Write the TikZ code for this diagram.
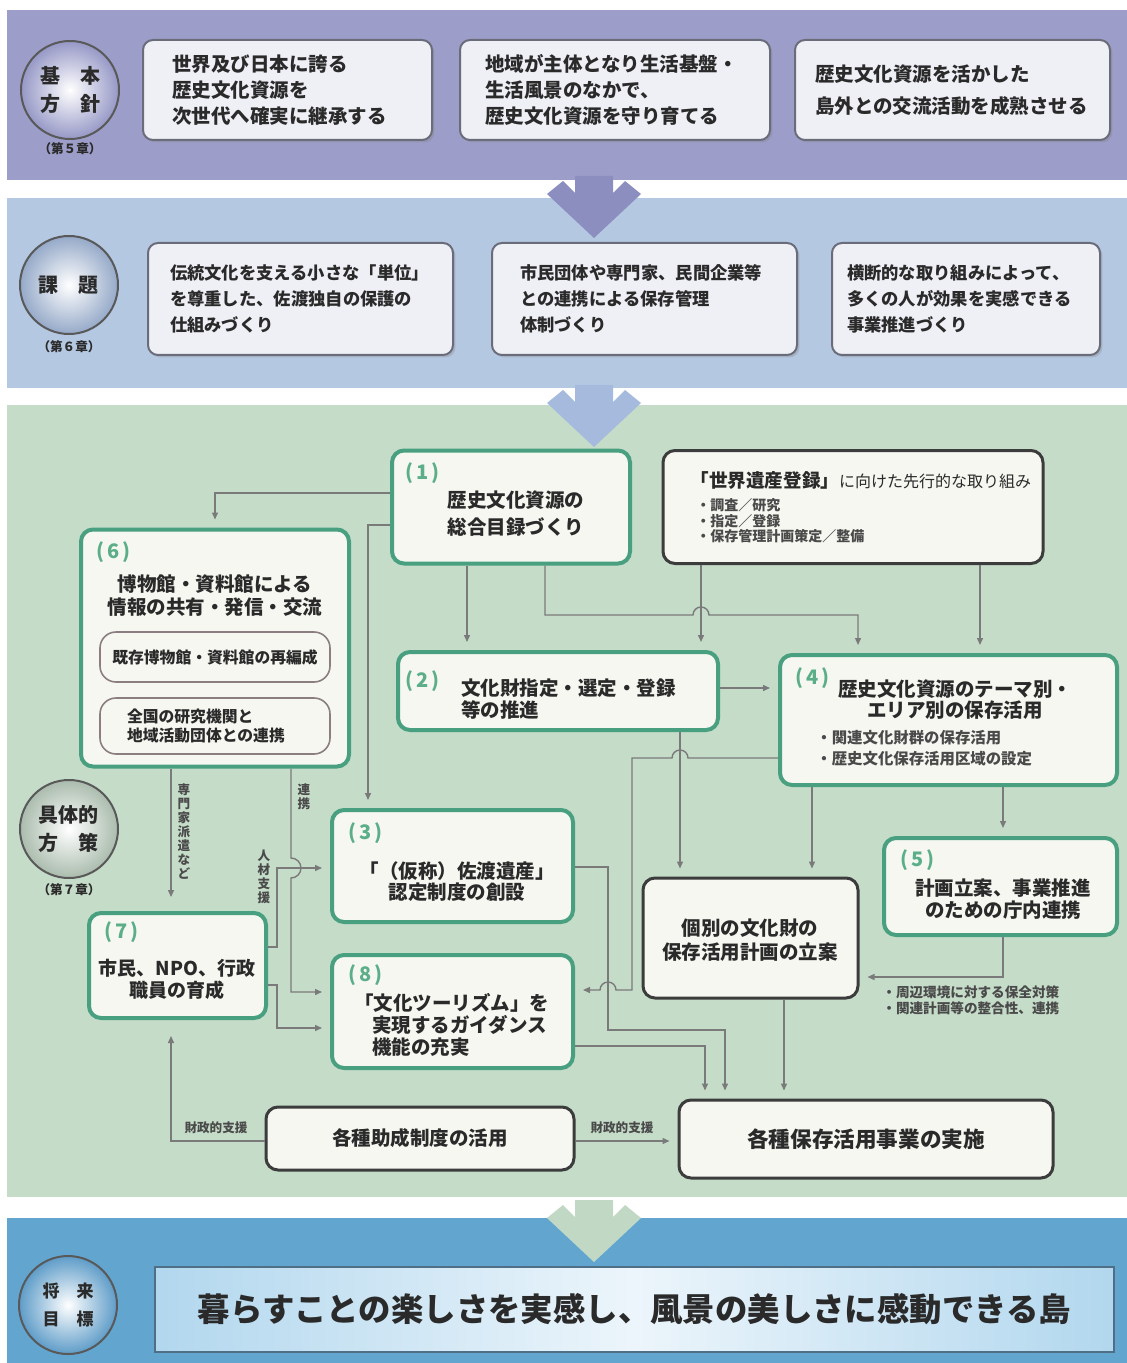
\documentclass[tikz,border=0pt]{standalone}
\usepackage{fontspec}
\setmainfont{Noto Sans CJK JP}
\usepackage{xcolor}
\usepackage{tikz}
\usetikzlibrary{arrows.meta,positioning,calc,shadows}
\definecolor{cBandA}{HTML}{9C9EC9}
\definecolor{cBandB}{HTML}{B4C8E2}
\definecolor{cBandC}{HTML}{C5DCC9}
\definecolor{cBandD}{HTML}{62A6D0}
\definecolor{cArrA}{HTML}{8C8EC0}
\definecolor{cArrB}{HTML}{A6BADE}
\definecolor{cArrC}{HTML}{C0D8C4}
\definecolor{cCirA}{HTML}{9698C6}
\definecolor{cCirB}{HTML}{95A9C8}
\definecolor{cCirC}{HTML}{AABCAD}
\definecolor{cCirD}{HTML}{5E9CC8}
\definecolor{cTop}{HTML}{EEF0F6}
\definecolor{cTopB}{HTML}{6B6C7A}
\definecolor{cGrn}{HTML}{48A080}
\definecolor{cNum}{HTML}{5BAE88}
\definecolor{cFill}{HTML}{F6F7F1}
\definecolor{cDark}{HTML}{3C3C3C}
\definecolor{cInB}{HTML}{8A7E80}
\definecolor{cLine}{HTML}{7A7A7A}
\definecolor{cTxt}{HTML}{2A2A2A}
\definecolor{cGoal}{HTML}{B2D7EE}
\definecolor{cGoalB}{HTML}{4F6F86}
\newcommand{\jfs}[2]{\fontsize{#1pt}{#2pt}\selectfont\bfseries}
\newcommand{\ntag}[1]{(\kern1.5pt#1\kern1.5pt)}
\tikzset{
  bcirc/.style={circle, draw=cDark!85, line width=1pt, inner color=white, outer color=#1,
                minimum size=49pt, inner sep=0pt, align=center, text=cTxt, font=\jfs{10}{14}},
  chap/.style={inner sep=0pt, text=cTxt, font=\jfs{6.3}{7}},
  tbox/.style={draw=cTopB, fill=cTop, line width=1pt, rounded corners=5pt, align=left,
               text=cTxt, minimum height=50pt, font=\jfs{9.75}{13},
               drop shadow={opacity=0.3, shadow xshift=1.2pt, shadow yshift=-1.2pt}},
  gbox/.style={draw=cGrn, fill=cFill, line width=2pt, rounded corners=6pt},
  kbox/.style={draw=cDark, fill=cFill, line width=1.5pt, rounded corners=6pt, align=center,
               text=cTxt, font=\jfs{9.75}{12}},
  ibox/.style={draw=cInB, fill=cFill, line width=0.8pt, rounded corners=8pt, text=cTxt,
               font=\jfs{7.9}{9.5}},
  fnum/.style={anchor=west, text=cNum, inner sep=0pt, font=\jfs{10}{10}},
  ftxt/.style={text=cTxt, inner sep=0pt, align=center, font=\jfs{9.75}{12}},
  fsml/.style={anchor=west, text=cTxt!85, inner sep=0pt, align=left, font=\jfs{6.8}{8}},
  vlbl/.style={text=cTxt!85, inner sep=0pt, align=center, font=\jfs{6.3}{7}},
  farr/.style={-{Triangle[length=3.5pt,width=3pt]}, line width=0.7pt, draw=cLine, shorten >=4pt},
}

\begin{document}
\begin{tikzpicture}[x=0.5pt, y=-0.5pt]
\useasboundingbox (0,0) rectangle (1127,1363);
\fill[white] (0,0) rectangle (1127,1363);
% ---- bands
\fill[cBandA] (7,10) rectangle (1127,180);
\fill[cBandB] (7,198) rectangle (1127,388);
\fill[cBandC] (7,405) rectangle (1127,1197);
\fill[cBandD] (7,1218) rectangle (1127,1363);
\foreach \ty/\col in {238/cArrA, 447/cArrB, 1262/cArrC}
  \fill[\col] (594,\ty) -- ++(-47,-44) -- ++(16,-13) -- ++(12,12) -- ++(0,-17) -- ++(38,0)
    -- ++(0,17) -- ++(12,-12) -- ++(16,13) -- cycle;
% ---- band 1: basic policy
\node[bcirc=cCirA] (cA) at (70,90) {基　本\\方　針};
\node[chap] (cAc) at (70,149) {（第５章）};
\node[tbox, text width=115.5pt, inner xsep=14.5pt] (tA) at (287.5,90)
  {世界及び日本に誇る\\歴史文化資源を\\次世代へ確実に継承する};
\node[tbox, text width=130pt, inner xsep=12.5pt] (tB) at (615,90)
  {地域が主体となり生活基盤・\\生活風景のなかで、\\歴史文化資源を守り育てる};
\node[tbox, text width=137.5pt, inner xsep=10pt, font=\jfs{9.75}{16}] (tC) at (952.5,90)
  {歴史文化資源を活かした\\島外との交流活動を成熟させる};
% ---- band 2: issues
\node[bcirc=cCirB] (cB) at (69,285) {課　題};
\node[chap] (cBc) at (69,347) {（第６章）};
\node[tbox, minimum height=56pt, font=\jfs{8.65}{13}, text width=130.5pt, inner xsep=11pt] (sD) at (300.5,299)
  {伝統文化を支える小さな「単位」\\を尊重した、佐渡独自の保護の\\仕組みづくり};
\node[tbox, minimum height=56pt, font=\jfs{8.65}{13}, text width=124.5pt, inner xsep=14pt] (sE) at (644.5,299)
  {市民団体や専門家、民間企業等\\との連携による保存管理\\体制づくり};
\node[tbox, minimum height=56pt, font=\jfs{8.65}{13}, text width=119pt, inner xsep=7.5pt] (sF) at (966,299)
  {横断的な取り組みによって、\\多くの人が効果を実感できる\\事業推進づくり};
% ---- band 3: measures
\node[bcirc=cCirC] (cC) at (69,829) {具体的\\方　策};
\node[chap] (cCc) at (69,890) {（第７章）};
\node[gbox, minimum width=119pt, minimum height=56.5pt] (n1) at (511,507) {};
\node[fnum] (n1n) at (405,473) {\ntag{1}};
\node[ftxt, font=\jfs{9.75}{13.5}] (n1t) at (516,513.5) {歴史文化資源の\\総合目録づくり};
\node[kbox, minimum width=190pt, minimum height=56.5pt] (wh) at (853,507) {};
\node[anchor=west, inner sep=0pt, text=cTxt] (whT) at (690,480)
  {{\jfs{9.3}{10}「世界遺産登録」}{\fontsize{8pt}{10pt}\selectfont に向けた先行的な取り組み}};
\node[fsml, font=\jfs{7}{7.8}] (whL) at (696,521) {・調査／研究\\・指定／登録\\・保存管理計画策定／整備};
\node[gbox, minimum width=134pt, minimum height=118.5pt] (n6) at (215,648) {};
\node[fnum] (n6n) at (96,552) {\ntag{6}};
\node[ftxt, font=\jfs{9.75}{11.5}] (n6t) at (215,596) {博物館・資料館による\\情報の共有・発信・交流};
\node[ibox, minimum width=115pt, minimum height=25pt] (n6a) at (215,657) {既存博物館・資料館の再編成};
\node[ibox, minimum width=115pt, minimum height=28pt, text width=88pt, inner xsep=13.5pt, align=left]
  (n6b) at (215,726) {全国の研究機関と\\地域活動団体との連携};
\node[gbox, minimum width=160pt, minimum height=39pt] (n2) at (558,691) {};
\node[fnum] (n2n) at (405,681) {\ntag{2}};
\node[ftxt, anchor=west, align=left, font=\jfs{9.75}{11}] (n2t) at (461,699) {文化財指定・選定・登録\\等の推進};
\node[gbox, minimum width=168.5pt, minimum height=65pt] (n4) at (948.5,720) {};
\node[fnum] (n4n) at (795,678) {\ntag{4}};
\node[ftxt, font=\jfs{9.75}{10.5}] (n4t) at (955,700) {歴史文化資源のテーマ別・\\エリア別の保存活用};
\node[fsml, font=\jfs{7.7}{10.5}] (n4l) at (816,748.5) {・関連文化財群の保存活用\\・歴史文化保存活用区域の設定};
\node[gbox, minimum width=120.5pt, minimum height=56pt] (n3) at (452.5,866) {};
\node[fnum] (n3n) at (348,833) {\ntag{3}};
\node[ftxt, font=\jfs{9.75}{10.5}] (n3t) at (457,882) {「（仮称）佐渡遺産」\\認定制度の創設};
\node[gbox, minimum width=116.5pt, minimum height=48.5pt] (n5) at (1000.5,886.5) {};
\node[fnum] (n5n) at (900,860) {\ntag{5}};
\node[ftxt, font=\jfs{9.75}{11}] (n5t) at (1003,899) {計画立案、事業推進\\のための庁内連携};
\node[fsml] (n5a) at (882,1000) {・周辺環境に対する保全対策\\・関連計画等の整合性、連携};
\node[kbox, minimum width=107.5pt, minimum height=60pt] (kb) at (750.5,938) {};
\node[ftxt] (kbt) at (750,940) {個別の文化財の\\保存活用計画の立案};
\node[gbox, minimum width=88.5pt, minimum height=52.5pt] (n7) at (177.5,965.5) {};
\node[fnum] (n7n) at (104,932) {\ntag{7}};
\node[ftxt, font=\jfs{9.5}{11}] (n7t) at (177,979) {市民、NPO、行政\\職員の育成};
\node[gbox, minimum width=120.5pt, minimum height=56.5pt] (n8) at (452.5,1011.5) {};
\node[fnum] (n8n) at (348,975) {\ntag{8}};
\node[ftxt, anchor=west, align=left, font=\jfs{9.75}{11}] (n8t) at (354,1025)
  {「文化ツーリズム」を\\\hspace*{9pt}実現するガイダンス\\\hspace*{9pt}機能の充実};
\node[kbox, minimum width=154pt, minimum height=31.5pt] (js) at (420,1138.5) {各種助成制度の活用};
\node[kbox, minimum width=187pt, minimum height=39pt, font=\jfs{10.8}{12}] (ji) at (866,1139) {各種保存活用事業の実施};
% ---- connector labels
\node[vlbl] (lbSen) at (184,832) {専\\門\\家\\派\\遣\\な\\ど};
\node[vlbl] (lbRen) at (304,797) {連\\携};
\node[vlbl] (lbJin) at (264,877) {人\\材\\支\\援};
\node[vlbl] (lbZa1) at (216,1128) {財政的支援};
\node[vlbl] (lbZa2) at (622,1128) {財政的支援};
% ---- connectors
\draw[farr] (n1.west |- 0,493) -| (n6.north);
\draw[farr] (n1.west |- 0,525) -| (n3.north -| 368,0);
\draw[farr] (n1.south -| 467,0) -- (n2.north -| 467,0);
\draw[farr] (n1.south -| 545,0) |- (693,615) arc(180:360:8) -| (n4.north -| 858,0);
\draw[farr] (wh.south -| 701,0) -- (n2.north -| 701,0);
\draw[farr] (wh.south -| 980,0) -- (n4.north -| 980,0);
\draw[farr] (n2.east |- 0,688) -- (n4.west |- 0,688);
\draw[farr] (n2.south -| 680,0) -- (kb.north -| 680,0);
\draw[farr] (n4.west |- 0,758) -- (688,758) arc(0:-180:8) -| (632,990) -- (616,990) arc(0:-180:8)
  -- (n8.east |- 0,990);
\draw[farr] (n4.south -| 812,0) -- (kb.north -| 812,0);
\draw[farr] (n4.south -| 1003,0) -- (n5.north -| 1003,0);
\draw[farr] (n5.south -| 1003,0) |- (kb.east |- 0,977);
\draw[farr] (kb.south -| 784,0) -- (ji.north -| 784,0);
\draw[farr] (n3.east |- 0,867) -| (608,1030) -| (ji.north -| 725,0);
\draw[farr] (n8.east |- 0,1046) -| (ji.north -| 705,0);
\draw[farr, shorten >=7pt] (n6.south -| 171,0) -- (n7.north -| 171,0);
\draw[farr] (n6.south -| 291,0) -- (291,858) arc(-90:90:10) |- (n8.west |- 0,992);
\draw[farr] (n7.east |- 0,947) -| (277,868) -- (n3.west |- 0,868);
\draw[farr] (n7.east |- 0,985) -| (277,1028) -- (n8.west |- 0,1028);
\draw[farr, shorten >=8pt] (js.west |- 0,1141) -| (n7.south -| 171,0);
\draw[farr] (js.east |- 0,1141) -- (ji.west |- 0,1141);
% ---- band 4: future goal
\node[bcirc=cCirD, font=\jfs{8.5}{14}] (cD) at (68,1305) {将　来\\目　標};
\node[draw=cGoalB, line width=1pt, left color=cGoal, right color=cGoal, middle color=white!75!cGoal,
      minimum width=479.5pt, minimum height=42.5pt, text=cTxt, font=\jfs{16.2}{18}] (goal) at (634.5,1309.5)
  {暮らすことの楽しさを実感し、風景の美しさに感動できる島};
\end{tikzpicture}
\end{document}
